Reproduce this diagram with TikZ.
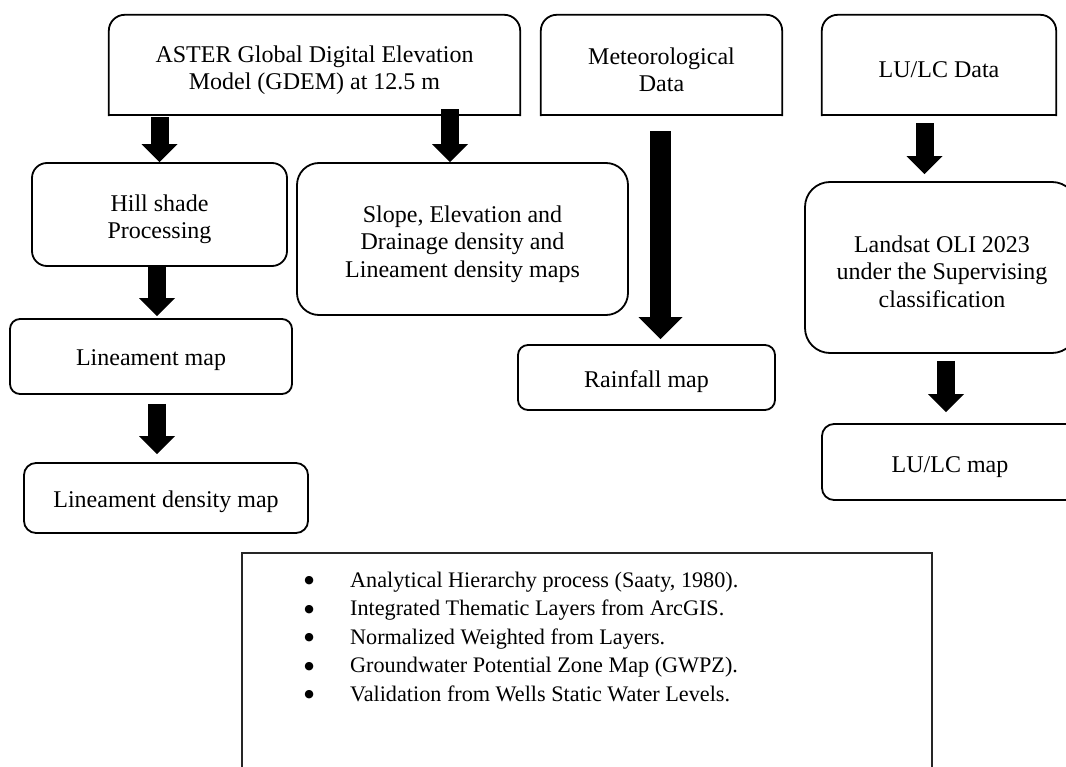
\documentclass[tikz,border=0pt]{standalone}
\usepackage{fontspec}
\setmainfont{Liberation Serif}
\newfontfamily\symfnt{DejaVu Sans}
\usetikzlibrary{arrows.meta}
\newcommand\toprounded[1]{%
  \draw[boxline,line cap=rect,rounded corners=16pt] (#1.south west) -- (#1.north west)
    -- (#1.north east) -- (#1.south east);
  \draw[boxline,line cap=rect] (#1.south west) -- (#1.south east);}
\newcommand\bigbullet{\makebox[13pt][c]{\raisebox{3.5pt}{\symfnt\fontsize{11}{11}\selectfont ●}}\hspace{34.5pt}}
\begin{document}
\begin{tikzpicture}[x=1pt,y=-1pt,
  boxline/.style={draw=black,line width=1.8pt},
  boxtxt/.style={font=\fontsize{24}{27.5}\selectfont,align=center,inner sep=0pt},
  topbox/.style={inner sep=0pt},
  rbox/.style={inner sep=0pt,draw=black,line width=1.8pt},
  blk/.style={line width=18pt,-{Triangle[width=36pt,length=18pt,line width=0pt]}},
  blkbig/.style={line width=21pt,-{Triangle[width=44pt,length=22pt,line width=0pt]}},
  listfont/.style={font=\fontsize{22.2}{28}\selectfont,inner sep=0pt,anchor=base west}]
\useasboundingbox (0,0) rectangle (1066,767);
\clip (0,0) rectangle (1066,767);
\fill[white] (0,0) rectangle (1066,767);

% top boxes
\node[topbox,minimum width=411pt,minimum height=100pt] (aster) at (314.5,65) {};
\node[topbox,minimum width=241pt,minimum height=100pt] (met) at (661.5,65) {};
\node[topbox,minimum width=234pt,minimum height=100pt] (ludata) at (939,65) {};
\toprounded{aster}
\toprounded{met}
\toprounded{ludata}
\node[boxtxt] (astert) at ([yshift=-5pt]aster.center) {ASTER Global Digital Elevation\\Model (GDEM) at 12.5 m};
\node[boxtxt] (mett) at ([yshift=-5pt]met.center) {Meteorological\\Data};
\node[boxtxt] (ludatat) at ([yshift=-5pt]ludata.center) {LU/LC Data};

% rounded boxes
\node[rbox,rounded corners=15pt,minimum width=255pt,minimum height=103pt] (hill) at (159.5,214.5) {};
\node[rbox,rounded corners=22pt,minimum width=331pt,minimum height=152pt] (slope) at (462.5,239) {};
\node[rbox,rounded corners=10pt,minimum width=282pt,minimum height=75pt] (linmap) at (151,356.5) {};
\node[rbox,rounded corners=12pt,minimum width=284pt,minimum height=70pt] (lindens) at (166,498) {};
\node[rbox,rounded corners=10pt,minimum width=257pt,minimum height=65pt] (rain) at (646.5,377.5) {};
\node[rbox,rounded corners=25pt,minimum width=272pt,minimum height=171pt] (landsat) at (941,267.5) {};
\node[rbox,rounded corners=12pt,minimum width=256pt,minimum height=76pt] (lumap) at (950,462) {};

\node[boxtxt] (hillt) at ([yshift=-5pt]hill.center) {Hill shade\\Processing};
\node[boxtxt] (slopet) at ([yshift=-5pt]slope.center) {Slope, Elevation and\\Drainage density and\\Lineament density maps};
\node[boxtxt] (linmapt) at ([yshift=-4pt]linmap.center) {Lineament map};
\node[boxtxt] (lindenst) at ([yshift=-4pt]lindens.center) {Lineament density map};
\node[boxtxt] (raint) at ([yshift=-4pt]rain.center) {Rainfall map};
\node[boxtxt] (landsatt) at ([xshift=1pt,yshift=-4pt]landsat.center) {Landsat OLI 2023\\under the Supervising\\classification};
\node[boxtxt] (lumapt) at ([yshift=-5pt]lumap.center) {LU/LC map};

% block arrows
\draw[blk] ([yshift=-2pt]aster.south -| hill.north) -- (hill.north);
\draw[blk] ([xshift=-12.5pt,yshift=53pt]slope.north) -- ([xshift=-12.5pt]slope.north);
\draw[blk] ([xshift=-2.5pt,yshift=2pt]hill.south) -- ([xshift=6pt,yshift=2pt]linmap.north);
\draw[blk] ([xshift=6pt,yshift=-9pt]linmap.south) -- ([xshift=-9pt,yshift=8pt]lindens.north);
\draw[blkbig] ([xshift=-1pt,yshift=-16pt]met.south) -- ([xshift=14pt,yshift=5pt]rain.north);
\draw[blk] ([xshift=-14.5pt,yshift=-8pt]ludata.south) -- ([xshift=-16.5pt,yshift=7pt]landsat.north);
\draw[blk] ([xshift=5pt,yshift=-7pt]landsat.south) -- ([xshift=-4pt,yshift=11pt]lumap.north);

% bottom box
\node[draw=black!85,line width=1.3pt,minimum width=690pt,minimum height=227pt,inner sep=0pt] (gw) at (587,666.5) {};
\node[listfont] (b1) at (302.5,587) {\bigbullet Analytical Hierarchy process (Saaty, 1980).};
\node[listfont] (b2) at (302.5,615.5) {\bigbullet Integrated Thematic Layers from ArcGIS.};
\node[listfont] (b3) at (302.5,644) {\bigbullet Normalized Weighted from Layers.};
\node[listfont] (b4) at (302.5,672.5) {\bigbullet Groundwater Potential Zone Map (GWPZ).};
\node[listfont] (b5) at (302.5,701) {\bigbullet Validation from Wells Static Water Levels.};
\end{tikzpicture}
\end{document}
